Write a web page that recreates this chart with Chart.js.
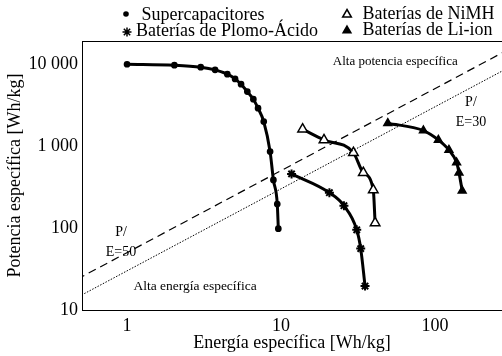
<!DOCTYPE html>
<html>
<head>
<meta charset="utf-8">
<script src="https://cdn.jsdelivr.net/npm/chart.js@4/dist/chart.umd.min.js"></script>
<style>
  html, body { margin: 0; padding: 0; background: #fff; overflow: hidden; }
  canvas { display: block; }
</style>
</head>
<body>
<canvas id="ragone" width="502" height="356"></canvas>
<script>
// Ragone plot: specific power vs specific energy (log-log)
const superEnergy = [1.0, 2.03, 3.01, 3.73, 4.48, 5.03, 5.5, 6.04, 6.61, 7.09, 7.72, 8.49, 8.92, 9.45, 9.6];
const superPower  = [9900, 9640, 9120, 8450, 7480, 6560, 5650, 4590, 3710, 2880, 1980, 852, 385, 196, 98];

const leadEnergy = [11.7, 20.6, 25.6, 31.0, 32.9, 35.1];
const leadPower  = [456, 269, 187, 95, 56, 19.6];

const nimhEnergy = [13.8, 19.0, 29.5, 34.2, 39.7, 40.8];
const nimhPower  = [1600, 1183, 828, 472, 291, 115];

const liionEnergy = [49.3, 84, 105, 123, 138, 143, 150];
const liionPower  = [1892, 1537, 1183, 893, 626, 472, 285];

// constant power/energy ratios (h^-1)
const ratioHigh = 50;
const ratioLow = 30;
const ratioSpan = [0.4, 400];

const xTicks = [1, 10, 100];
const yTicks = [10, 100, 1000, 10000];

const legendLabels = ['Supercapacitores', 'Baterías de Plomo-Ácido', 'Baterías de NiMH', 'Baterías de Li-ion'];

const SERIF = '"Liberation Serif", "DejaVu Serif", serif';

const pairs = (xs, ys) => xs.map((x, i) => ({ x, y: ys[i] }));
const fmt = v => String(v).replace(/\B(?=(\d{3})+(?!\d))/g, ' ');

function drawMarker(ctx, style, x, y, r) {
  ctx.save();
  ctx.fillStyle = '#000';
  ctx.strokeStyle = '#000';
  ctx.lineWidth = 1.5;
  ctx.beginPath();
  if (style === 'circle') {
    ctx.arc(x, y, r, 0, Math.PI * 2);
    ctx.fill();
  } else if (style === 'star') {
    for (let k = 0; k < 4; k++) {
      const a = k * Math.PI / 4;
      ctx.moveTo(x - Math.sin(a) * r, y - Math.cos(a) * r);
      ctx.lineTo(x + Math.sin(a) * r, y + Math.cos(a) * r);
    }
    ctx.stroke();
  } else {
    for (let k = 0; k < 3; k++) {
      const a = k * 2 * Math.PI / 3;
      const px = x + Math.sin(a) * r, py = y - Math.cos(a) * r;
      k ? ctx.lineTo(px, py) : ctx.moveTo(px, py);
    }
    ctx.closePath();
    if (style === 'triangleOpen') { ctx.fillStyle = '#fff'; ctx.fill(); ctx.stroke(); }
    else { ctx.fill(); ctx.stroke(); }
  }
  ctx.restore();
}

const decorations = {
  id: 'decorations',
  afterDatasetsDraw(chart) {
    const { ctx, chartArea, scales } = chart;
    const X = v => scales.x.getPixelForValue(v);
    const Y = v => scales.y.getPixelForValue(v);
    ctx.save();
    // top frame line
    ctx.strokeStyle = '#000';
    ctx.lineWidth = 1;
    ctx.beginPath();
    ctx.moveTo(chartArea.left, chartArea.top + 0.5);
    ctx.lineTo(chartArea.right, chartArea.top + 0.5);
    ctx.stroke();

    ctx.fillStyle = '#000';
    ctx.textBaseline = 'middle';
    ctx.font = '13px ' + SERIF;
    ctx.textAlign = 'left';
    ctx.fillText('Alta potencia específica', X(21.7), Y(10570));
    ctx.font = '13.5px ' + SERIF;
    ctx.fillText('Alta energía específica', X(1.10), Y(19.6));

    ctx.font = '14px ' + SERIF;
    ctx.textAlign = 'center';
    ctx.fillText('P/', X(0.914), Y(89.3));
    ctx.fillText('E=' + ratioHigh, X(0.914), Y(51));
    ctx.fillText('P/', X(171), Y(3440));
    ctx.fillText('E=' + ratioLow, X(171), Y(1963));
    ctx.restore();
  },
  afterDraw(chart) {
    const ctx = chart.ctx;
    ctx.save();
    ctx.fillStyle = '#000';
    ctx.font = '18px ' + SERIF;
    ctx.textAlign = 'left';
    ctx.textBaseline = 'alphabetic';
    drawMarker(ctx, 'circle', 126, 14, 2.8);
    ctx.fillText(legendLabels[0], 141.5, 20);
    drawMarker(ctx, 'star', 127, 32, 4.5);
    ctx.fillText(legendLabels[1], 136, 36);
    drawMarker(ctx, 'triangleOpen', 347, 14.5, 5);
    ctx.fillText(legendLabels[2], 362.5, 19);
    drawMarker(ctx, 'triangle', 347, 30.5, 4.5);
    ctx.fillText(legendLabels[3], 362.5, 35);
    ctx.restore();
  }
};

const curve = (data, style, radius, bg, bw) => ({
  data,
  borderColor: '#000',
  borderWidth: 3,
  borderCapStyle: 'round',
  cubicInterpolationMode: 'monotone',
  pointStyle: style,
  pointRadius: radius,
  pointBackgroundColor: bg,
  pointBorderColor: '#000',
  pointBorderWidth: bw,
  fill: false
});

new Chart(document.getElementById('ragone'), {
  type: 'line',
  data: {
    datasets: [
      {
        data: ratioSpan.map(e => ({ x: e, y: e * ratioHigh })),
        borderColor: '#000', borderWidth: 1.2, borderDash: [8, 5],
        pointRadius: 0, fill: false
      },
      {
        data: ratioSpan.map(e => ({ x: e, y: e * ratioLow })),
        borderColor: '#000', borderWidth: 1, borderDash: [1.5, 1.5],
        pointRadius: 0, fill: false
      },
      curve(pairs(superEnergy, superPower), 'circle', 2.6, '#000', 1.5),
      curve(pairs(leadEnergy, leadPower), 'star', 4.5, '#000', 2),
      curve(pairs(nimhEnergy, nimhPower), 'triangle', 5.5, '#fff', 1.5),
      curve(pairs(liionEnergy, liionPower), 'triangle', 4.5, '#000', 1.5)
    ]
  },
  options: {
    responsive: false,
    animation: false,
    devicePixelRatio: 1,
    layout: { autoPadding: false, padding: { top: 41, right: 0, bottom: 0, left: 0 } },
    plugins: { legend: { display: false }, tooltip: { enabled: false } },
    scales: {
      x: {
        type: 'logarithmic',
        min: 0.51,
        max: 272,
        afterBuildTicks: s => { s.ticks = xTicks.map(v => ({ value: v })); },
        afterFit: s => { s.height = 46; s.paddingLeft = 0; s.paddingRight = 0; },
        grid: { display: false, drawTicks: false },
        border: { display: true, color: '#000', width: 1 },
        ticks: { color: '#000', font: { family: SERIF, size: 18 }, padding: 5, maxRotation: 0, callback: v => fmt(v) },
        title: { display: true, text: 'Energía específica [Wh/kg]', color: '#000', font: { family: SERIF, size: 18 }, padding: { top: 0, bottom: 2 } }
      },
      y: {
        type: 'logarithmic',
        min: 10,
        max: 19000,
        afterBuildTicks: s => { s.ticks = yTicks.map(v => ({ value: v })); },
        afterFit: s => { s.width = 82; },
        grid: { display: false, drawTicks: false },
        border: { display: true, color: '#000', width: 1 },
        ticks: { color: '#000', font: { family: SERIF, size: 18 }, padding: 4, callback: v => fmt(v) },
        title: { display: true, text: 'Potencia específica [Wh/kg]', color: '#000', font: { family: SERIF, size: 18 }, padding: { top: 4, bottom: 0 } }
      }
    }
  },
  plugins: [decorations]
});
</script>
</body>
</html>
